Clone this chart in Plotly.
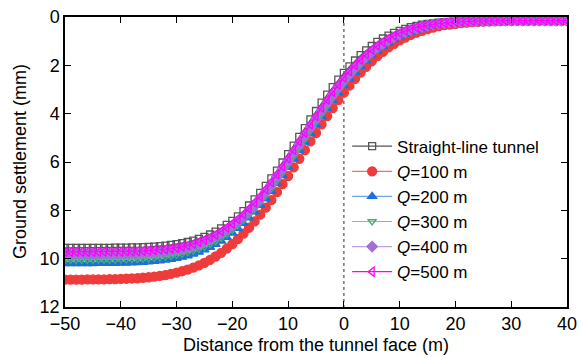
import plotly.graph_objects as go

distance = list(range(-50, 41))

straight = [9.55, 9.55, 9.55, 9.55, 9.55, 9.55, 9.55, 9.55, 9.55, 9.54,
            9.54, 9.54, 9.53, 9.53, 9.52, 9.51, 9.50, 9.48, 9.46, 9.43,
            9.40, 9.36, 9.31, 9.25, 9.18, 9.10, 9.00, 8.88, 8.75, 8.60,
            8.44, 8.25, 8.03, 7.80, 7.55, 7.28, 6.99, 6.68, 6.36, 6.02,
            5.67, 5.32, 4.96, 4.60, 4.24, 3.89, 3.54, 3.21, 2.90, 2.59,
            2.31, 2.04, 1.80, 1.58, 1.38, 1.20, 1.03, 0.89, 0.77, 0.66,
            0.57, 0.49, 0.42, 0.37, 0.32, 0.29, 0.26, 0.23, 0.21, 0.20,
            0.19, 0.18, 0.17, 0.17, 0.16, 0.16, 0.15, 0.15, 0.15, 0.15,
            0.15, 0.15, 0.15, 0.15, 0.15, 0.15, 0.15, 0.15, 0.15, 0.15, 0.15]

q100 = [10.87, 10.87, 10.87, 10.87, 10.86, 10.86, 10.86, 10.86, 10.85, 10.85,
        10.84, 10.83, 10.82, 10.81, 10.79, 10.77, 10.74, 10.71, 10.68, 10.63,
        10.58, 10.52, 10.45, 10.37, 10.28, 10.17, 10.05, 9.91, 9.76, 9.58,
        9.40, 9.19, 8.96, 8.72, 8.46, 8.18, 7.89, 7.58, 7.25, 6.92,
        6.58, 6.22, 5.87, 5.51, 5.15, 4.80, 4.44, 4.10, 3.77, 3.44,
        3.13, 2.84, 2.56, 2.30, 2.06, 1.83, 1.62, 1.44, 1.26, 1.11,
        0.97, 0.85, 0.74, 0.65, 0.57, 0.50, 0.44, 0.38, 0.34, 0.31,
        0.28, 0.25, 0.23, 0.21, 0.20, 0.19, 0.18, 0.17, 0.17, 0.16,
        0.16, 0.15, 0.15, 0.15, 0.15, 0.15, 0.15, 0.15, 0.15, 0.15, 0.15]

q200 = [10.20, 10.20, 10.20, 10.20, 10.20, 10.20, 10.19, 10.19, 10.19, 10.19,
        10.18, 10.18, 10.17, 10.16, 10.15, 10.13, 10.11, 10.09, 10.06, 10.03,
        9.99, 9.94, 9.88, 9.81, 9.73, 9.64, 9.53, 9.41, 9.27, 9.12,
        8.94, 8.75, 8.54, 8.31, 8.06, 7.79, 7.51, 7.21, 6.89, 6.56,
        6.22, 5.88, 5.53, 5.18, 4.82, 4.47, 4.13, 3.79, 3.46, 3.14,
        2.84, 2.56, 2.29, 2.04, 1.81, 1.60, 1.41, 1.23, 1.08, 0.94,
        0.82, 0.71, 0.62, 0.54, 0.47, 0.41, 0.36, 0.32, 0.29, 0.26,
        0.24, 0.22, 0.20, 0.19, 0.18, 0.17, 0.17, 0.16, 0.16, 0.15,
        0.15, 0.15, 0.15, 0.15, 0.15, 0.15, 0.15, 0.15, 0.15, 0.15, 0.15]

q300 = [10.05, 10.05, 10.05, 10.05, 10.05, 10.05, 10.04, 10.04, 10.04, 10.04,
        10.03, 10.03, 10.02, 10.01, 10.00, 9.99, 9.97, 9.95, 9.92, 9.89,
        9.85, 9.80, 9.74, 9.67, 9.60, 9.51, 9.40, 9.28, 9.14, 8.98,
        8.81, 8.62, 8.41, 8.18, 7.94, 7.67, 7.39, 7.09, 6.77, 6.45,
        6.11, 5.77, 5.42, 5.06, 4.71, 4.36, 4.02, 3.69, 3.37, 3.05,
        2.76, 2.48, 2.21, 1.97, 1.74, 1.54, 1.35, 1.18, 1.03, 0.90,
        0.78, 0.68, 0.59, 0.51, 0.45, 0.39, 0.34, 0.31, 0.27, 0.25,
        0.23, 0.21, 0.20, 0.19, 0.18, 0.17, 0.17, 0.16, 0.16, 0.15,
        0.15, 0.15, 0.15, 0.15, 0.15, 0.15, 0.15, 0.15, 0.15, 0.15, 0.15]

q400 = [9.82, 9.82, 9.82, 9.82, 9.82, 9.82, 9.81, 9.81, 9.81, 9.81,
        9.81, 9.80, 9.80, 9.79, 9.78, 9.76, 9.75, 9.73, 9.70, 9.67,
        9.63, 9.59, 9.54, 9.47, 9.40, 9.31, 9.21, 9.09, 8.95, 8.80,
        8.64, 8.45, 8.24, 8.02, 7.77, 7.51, 7.22, 6.93, 6.61, 6.29,
        5.96, 5.61, 5.27, 4.92, 4.57, 4.22, 3.88, 3.55, 3.23, 2.92,
        2.63, 2.36, 2.10, 1.86, 1.64, 1.44, 1.26, 1.10, 0.96, 0.83,
        0.72, 0.63, 0.54, 0.47, 0.41, 0.36, 0.32, 0.28, 0.26, 0.23,
        0.22, 0.20, 0.19, 0.18, 0.17, 0.17, 0.16, 0.16, 0.15, 0.15,
        0.15, 0.15, 0.15, 0.15, 0.15, 0.15, 0.15, 0.15, 0.15, 0.15, 0.15]

q500 = [9.72, 9.72, 9.72, 9.72, 9.72, 9.72, 9.72, 9.71, 9.71, 9.71,
        9.71, 9.70, 9.70, 9.69, 9.68, 9.67, 9.65, 9.63, 9.61, 9.58,
        9.55, 9.50, 9.45, 9.39, 9.31, 9.22, 9.12, 9.01, 8.87, 8.72,
        8.55, 8.36, 8.16, 7.93, 7.68, 7.42, 7.13, 6.83, 6.51, 6.18,
        5.85, 5.50, 5.15, 4.79, 4.44, 4.10, 3.75, 3.42, 3.10, 2.80,
        2.51, 2.24, 1.99, 1.76, 1.55, 1.35, 1.18, 1.03, 0.89, 0.77,
        0.66, 0.57, 0.50, 0.43, 0.38, 0.33, 0.30, 0.27, 0.24, 0.22,
        0.20, 0.19, 0.18, 0.17, 0.17, 0.16, 0.16, 0.15, 0.15, 0.15,
        0.15, 0.15, 0.15, 0.15, 0.15, 0.15, 0.15, 0.15, 0.15, 0.15, 0.15]

x_tickvals = [-50, -40, -30, -20, -10, 0, 10, 20, 30, 40]
x_ticktext = ["\u221250", "\u221240", "\u221230", "\u221220", "10", "0", "10", "20", "30", "40"]
y_tickvals = [0, 2, 4, 6, 8, 10, 12]

x_title = "Distance from the tunnel face (m)"
y_title = "Ground settlement (mm)"

FONT = "Liberation Sans, Arial, sans-serif"

series = [
    ("Straight-line tunnel", straight, "#555555", "square-open", 7, "#555555"),
    ("<i>Q</i>=100 m", q100, "#EF3B3B", "circle", 9, "#F26D6D"),
    ("<i>Q</i>=200 m", q200, "#1E6FD9", "triangle-up", 8, "#6FA4EA"),
    ("<i>Q</i>=300 m", q300, "#3DB36B", "triangle-down-open", 7, "#6FCB94"),
    ("<i>Q</i>=400 m", q400, "#A070D8", "diamond", 8, "#C0A0E6"),
    ("<i>Q</i>=500 m", q500, "#FF00FF", "triangle-left-open", 8, "#FF00FF"),
]

fig = go.Figure()
for name, vals, mcol, sym, size, lcol in series:
    fig.add_trace(go.Scatter(
        x=distance, y=vals, name=name, mode="lines+markers",
        line=dict(color=lcol, width=1.2),
        marker=dict(symbol=sym, size=size, color=mcol,
                    line=dict(color=mcol, width=1.3)),
    ))

fig.add_shape(type="line", xref="x", yref="y", x0=0, x1=0, y0=0, y1=12,
              line=dict(color="#555555", width=1.2, dash="dot"), layer="below")

fig.add_annotation(text=x_title, xref="paper", yref="paper", x=0.5, y=0,
                   yshift=-38, xanchor="center", yanchor="middle",
                   showarrow=False, font=dict(family=FONT, size=18))
fig.add_annotation(text=y_title, xref="paper", yref="paper", x=0, y=0.5,
                   xshift=-45, xanchor="center", yanchor="middle", textangle=-90,
                   showarrow=False, font=dict(family=FONT, size=18))

fig.update_layout(
    width=582, height=358,
    margin=dict(l=65, r=15, t=17, b=51, autoexpand=False),
    paper_bgcolor="white", plot_bgcolor="white",
    font=dict(family=FONT, size=18, color="black"),
    showlegend=True,
    legend=dict(x=0.562, y=0.615, xanchor="left", yanchor="top",
                bgcolor="rgba(0,0,0,0)", borderwidth=0,
                font=dict(family=FONT, size=17), tracegroupgap=0,
                itemwidth=40),
)
fig.update_xaxes(range=[-50, 40], tickvals=x_tickvals, ticktext=x_ticktext,
                 ticks="inside", ticklen=6, tickwidth=1.2, tickcolor="black",
                 showline=True, linecolor="black", linewidth=1.5, mirror="ticks",
                 showgrid=False, zeroline=False, automargin=False,
                 tickfont=dict(size=18))
fig.update_yaxes(range=[12, 0], tickvals=y_tickvals,
                 ticks="inside", ticklen=6, tickwidth=1.2, tickcolor="black",
                 showline=True, linecolor="black", linewidth=1.5, mirror="ticks",
                 showgrid=False, zeroline=False, automargin=False,
                 tickfont=dict(size=18))

fig.write_html("out.html")
